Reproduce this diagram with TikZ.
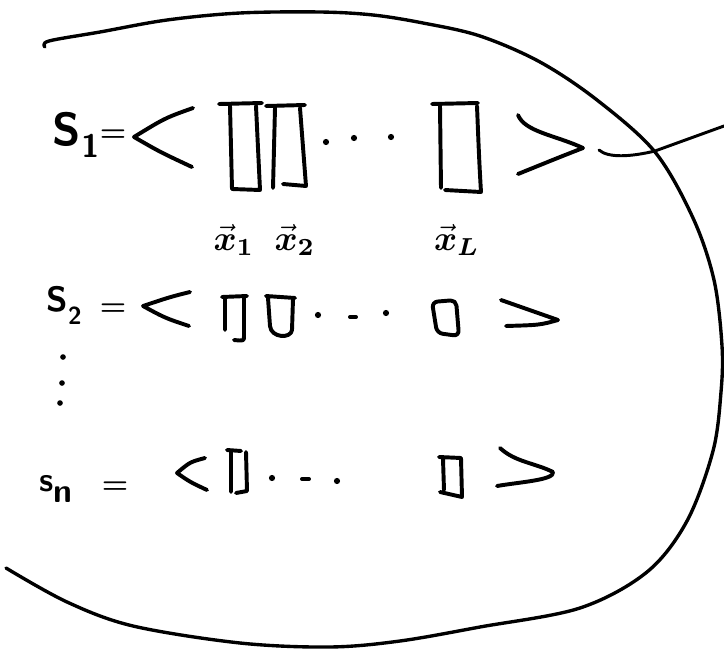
\documentclass[tikz,border=0pt]{standalone}
\usepackage{amsmath}
\tikzset{
  pen/.style={line width=2.8pt, line cap=round, line join=round},
  rim/.style={line width=2.4pt, line cap=round, line join=round},
  wire/.style={line width=2.1pt, line cap=round},
  seqname/.style={inner sep=0pt, anchor=base west, font=\sffamily\bfseries},
  eqsign/.style={inner sep=0pt, scale=2.1, font=\bfseries},
  veclabel/.style={inner sep=0pt, scale=2.5}
}
\begin{document}
\begin{tikzpicture}[x=0.025cm, y=-0.025cm]
\useasboundingbox (0,0) rectangle (724,650);
% the set
\draw[rim] plot[smooth, tension=0.55] coordinates {(45,47) (49,41) (100,32) (167,20) (240,13)
  (320,12) (373,15) (423,23) (480,36) (540,62) (597,100) (655,152) (693,218) (714,280)
  (722,346) (721,392) (713,451) (687,521) (647,572) (580,608) (480,627) (400,641)
  (330,647) (240,643) (133,626) (67,602) (6,568)};
% S1
\node[seqname, scale=3.3] (s1) at (52,145) {S\raisebox{-2.6pt}{\scriptsize 1}};
\node[eqsign] (eq1) at (113,136) {=};
\draw[pen] (193,108) .. controls (165,118) .. (134,137) .. controls (160,152) .. (192,167);
\draw[pen] (219,104) -- (262,103) (230,106) -- (232,189) -- (260,190) -- (256,106);
\draw[pen] (266,106) -- (305,105) (275,108) -- (273,188) (283,184) -- (306,186) -- (300,108);
\fill (326,142) circle (2.2pt) (354,138) circle (2.2pt) (391,137) circle (2.2pt);
\draw[pen] (432,104) -- (478,103) (440,106) -- (441,188) (445,190) -- (481,192)
  .. controls (479,160) and (478,130) .. (477,106);
\draw[pen] (518,115) .. controls (525,132) and (555,135) .. (583,148)
  .. controls (560,157) .. (518,174);
\coordinate (gt1) at (599,150);
\coordinate (exit) at (724,126);
\draw[wire] (gt1) .. controls (608,158) and (630,157) .. (655,151) -- (exit);
% vectors
\node[veclabel] (v1) at (234,240) {$\vec{\boldsymbol{x}}_{\boldsymbol{1}}$};
\node[veclabel] (v2) at (295,240) {$\vec{\boldsymbol{x}}_{\boldsymbol{2}}$};
\node[veclabel] (vL) at (457,240) {$\vec{\boldsymbol{x}}_{\boldsymbol{L}}$};
% S2
\node[seqname, scale=2.5] (s2) at (46,311) {S\raisebox{-3.7pt}{\scriptsize 2}};
\node[eqsign] (eq2) at (113,310) {=};
\draw[pen] (190,292) .. controls (170,297) .. (143,306) .. controls (165,318) .. (189,326);
\draw[pen] (222,297) -- (247,296) (225,298) -- (225,330) (244,298) -- (244,336)
  .. controls (244,341) .. (234,340);
\draw[pen] (266,296) -- (295,298) (268,298) -- (270,326)
  .. controls (271,338) and (291,339) .. (292,330) -- (293,299);
\fill (318,315) circle (2.2pt) (386,313) circle (2.2pt);
\draw[pen] (350,317) -- (356,317);
\draw[pen, rounded corners=4pt] (432,302) -- (456,300) -- (459,336) -- (437,333) -- cycle;
\draw[pen] (501,300) .. controls (530,310) .. (558,320) .. controls (540,325) .. (506,326);
% dots
\fill (63,357) circle (2pt) (62,383) circle (2pt) (60,403) circle (2pt);
% Sn
\node[seqname, scale=2.4] (sn) at (39,491) {s\raisebox{-3.5pt}{n}};
\node[eqsign] (eq3) at (115,488) {=};
\draw[pen] (205,458) .. controls (190,462) .. (177,473) .. controls (190,482) .. (207,490);
\draw[pen] (227,450) -- (241,451) (231,452) -- (231,492) (246,452) -- (247,491) -- (236,493);
\fill (272,478) circle (2.2pt) (337,481) circle (2.2pt);
\draw[pen] (302,479) -- (309,479);
\draw[pen] (439,457) -- (461,458) -- (462,497) -- (440,492) (443,459) -- (444,490);
\draw[pen] (500,448) .. controls (515,462) and (535,463) .. (553,472)
  .. controls (555,480) and (520,482) .. (497,486);
\end{tikzpicture}
\end{document}
